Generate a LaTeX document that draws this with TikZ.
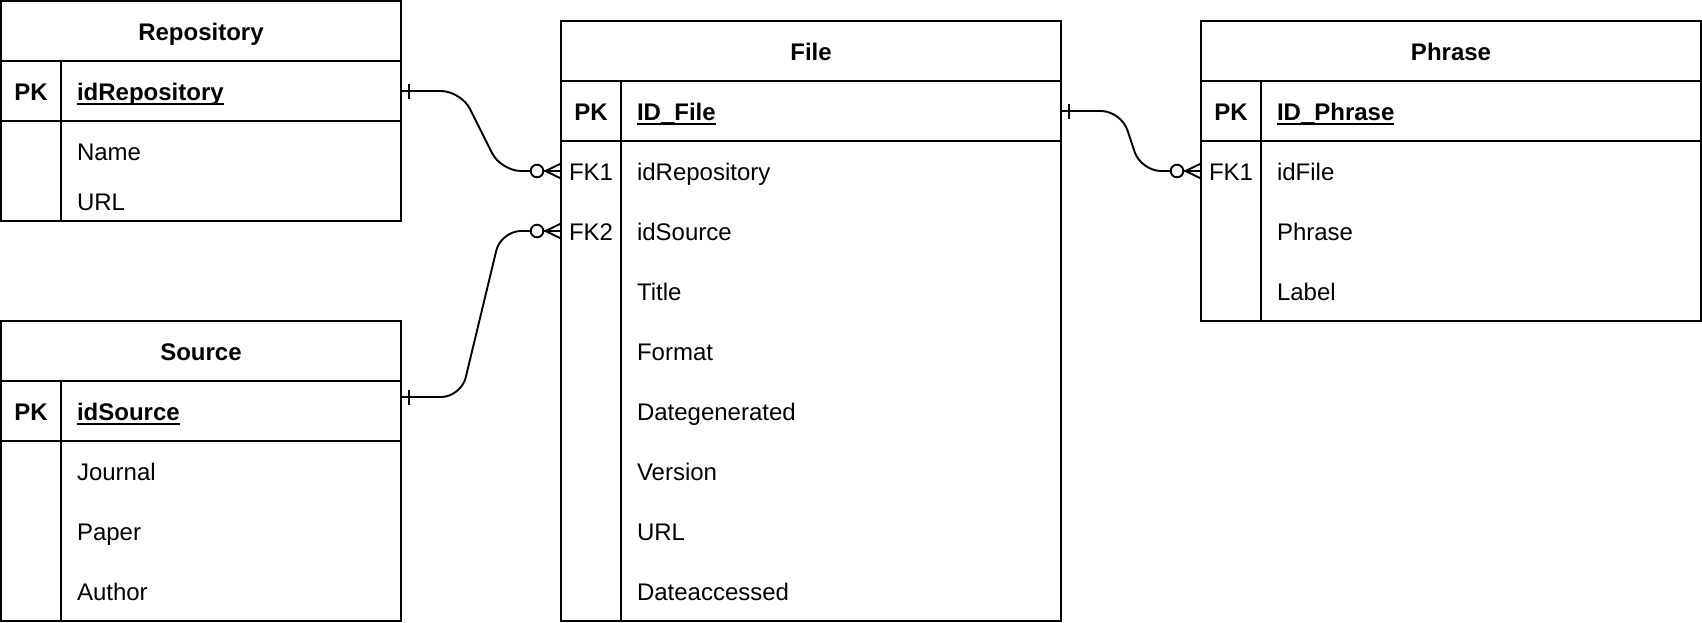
\documentclass[tikz,border=0pt]{standalone}
\usepackage{fontspec}
\setmainfont{Liberation Sans}
\usetikzlibrary{calc}
\newcommand\ERlink[2]{%
  \draw[conn,rounded corners=20pt] (#1) -- ($(#1)+(60,0)$) -- ($(#2)+(-60,0)$) -- (#2);
  \draw[conn] ($(#1)+(8,-7.5)$) -- ($(#1)+(8,7.5)$);
  \draw[conn,fill=white] ($(#2)+(-24,0)$) circle[radius=6.3pt];
  \draw[conn] ($(#2)+(0,-7.5)$) -- ($(#2)+(-15.5,0)$) -- ($(#2)+(0,7.5)$);
}
\newcommand\ULnode[1]{%
  \draw[line width=1.8pt] ([yshift=-4pt]#1.base west) -- ([yshift=-4pt]#1.base east);
}
\begin{document}
\begin{tikzpicture}[x=1pt,y=-1pt,line width=2pt,
  every node/.style={inner sep=0pt,outer sep=0pt,font=\fontsize{24}{28.8}\selectfont},
  tbl/.style={draw,rectangle,anchor=north west,inner sep=0pt},
  rowbox/.style={rectangle,anchor=north west,inner sep=0pt,minimum height=60pt},
  ttl/.style={anchor=base,font=\fontsize{24}{28.8}\selectfont\bfseries},
  keylbl/.style={anchor=base,font=\fontsize{24}{28.8}\selectfont\bfseries},
  keyname/.style={anchor=base west,font=\fontsize{24}{28.8}\selectfont\bfseries},
  fklbl/.style={anchor=base},
  attr/.style={anchor=base west},
  conn/.style={line width=1.9pt},
]
\useasboundingbox (0,0) rectangle (1702,622);

% ---------------- Repository ----------------
\node[tbl,minimum width=400pt,minimum height=220pt] (repo) at (1,1) {};
\node[rowbox,minimum width=400pt] (repoPK) at (1,61) {};
\draw (repoPK.north west) -- (repoPK.north east);
\draw (repoPK.south west) -- (repoPK.south east);
\draw ($(repoPK.north west)+(60,0)$) -- ($(repo.south west)+(60,0)$);
\node[ttl] (repoT) at (201,40) {Repository};
\node[keylbl] (repoK) at (31,100) {PK};
\node[keyname] (repoKN) at (77,100) {idRepository};
\ULnode{repoKN}
\node[attr] (repoA1) at (77,160) {Name};
\node[attr] (repoA2) at (77,210) {URL};

% ---------------- Source ----------------
\node[tbl,minimum width=400pt,minimum height=300pt] (src) at (1,321) {};
\node[rowbox,minimum width=400pt] (srcPK) at (1,381) {};
\draw (srcPK.north west) -- (srcPK.north east);
\draw (srcPK.south west) -- (srcPK.south east);
\draw ($(srcPK.north west)+(60,0)$) -- ($(src.south west)+(60,0)$);
\node[ttl] (srcT) at (201,360) {Source};
\node[keylbl] (srcK) at (31,420) {PK};
\node[keyname] (srcKN) at (77,420) {idSource};
\ULnode{srcKN}
\node[attr] (srcA1) at (77,480) {Journal};
\node[attr] (srcA2) at (77,540) {Paper};
\node[attr] (srcA3) at (77,600) {Author};

% ---------------- File ----------------
\node[tbl,minimum width=500pt,minimum height=600pt] (file) at (561,21) {};
\node[rowbox,minimum width=500pt] (filePK) at (561,81) {};
\node[rowbox,minimum width=500pt] (fileFK1) at (561,141) {};
\node[rowbox,minimum width=500pt] (fileFK2) at (561,201) {};
\draw (filePK.north west) -- (filePK.north east);
\draw (filePK.south west) -- (filePK.south east);
\draw ($(filePK.north west)+(60,0)$) -- ($(file.south west)+(60,0)$);
\node[ttl] (fileT) at (811,60) {File};
\node[keylbl] (fileK) at (591,120) {PK};
\node[keyname] (fileKN) at (637,120) {ID\_File};
\ULnode{fileKN}
\node[fklbl] (fileF1) at (591,180) {FK1};
\node[fklbl] (fileF2) at (591,240) {FK2};
\node[attr] (fileA1) at (637,180) {idRepository};
\node[attr] (fileA2) at (637,240) {idSource};
\node[attr] (fileA3) at (637,300) {Title};
\node[attr] (fileA4) at (637,360) {Format};
\node[attr] (fileA5) at (637,420) {Dategenerated};
\node[attr] (fileA6) at (637,480) {Version};
\node[attr] (fileA7) at (637,540) {URL};
\node[attr] (fileA8) at (637,600) {Dateaccessed};

% ---------------- Phrase ----------------
\node[tbl,minimum width=500pt,minimum height=300pt] (phr) at (1201,21) {};
\node[rowbox,minimum width=500pt] (phrPK) at (1201,81) {};
\node[rowbox,minimum width=500pt] (phrFK1) at (1201,141) {};
\draw (phrPK.north west) -- (phrPK.north east);
\draw (phrPK.south west) -- (phrPK.south east);
\draw ($(phrPK.north west)+(60,0)$) -- ($(phr.south west)+(60,0)$);
\node[ttl] (phrT) at (1451,60) {Phrase};
\node[keylbl] (phrK) at (1231,120) {PK};
\node[keyname] (phrKN) at (1277,120) {ID\_Phrase};
\ULnode{phrKN}
\node[fklbl] (phrF1) at (1231,180) {FK1};
\node[attr] (phrA1) at (1277,180) {idFile};
\node[attr] (phrA2) at (1277,240) {Phrase};
\node[attr] (phrA3) at (1277,300) {Label};

% ---------------- Connectors ----------------
\coordinate (srcOut) at ($(srcPK.north east)!0.267!(srcPK.south east)$);
\ERlink{repoPK.east}{fileFK1.west}
\ERlink{srcOut}{fileFK2.west}
\ERlink{filePK.east}{phrFK1.west}
\end{tikzpicture}
\end{document}
